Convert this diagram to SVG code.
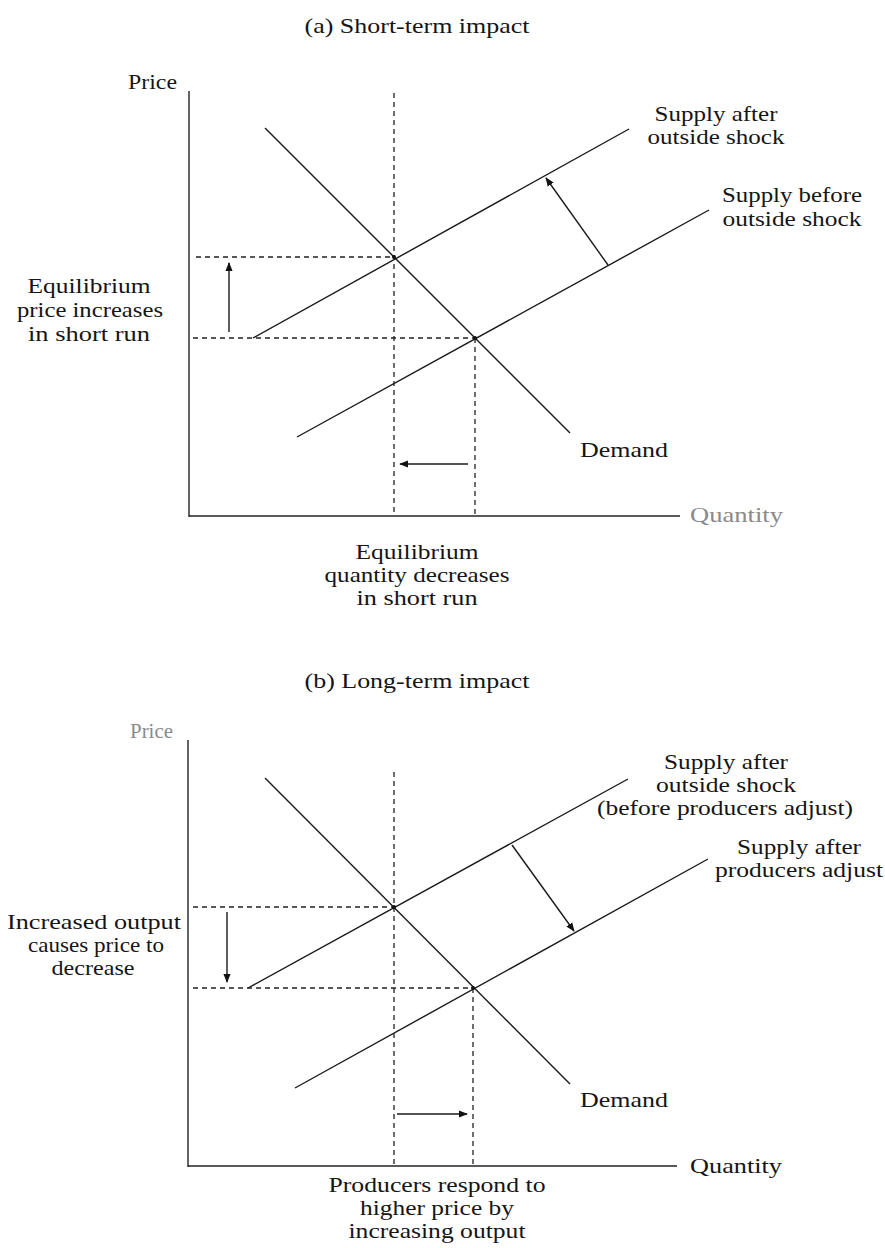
<svg xmlns="http://www.w3.org/2000/svg" width="885" height="1248" viewBox="0 0 885 1248">
<style>
text{font-family:"Liberation Serif","Times New Roman",serif;font-size:21px;fill:#151515}
.c{text-anchor:middle}
.faint{fill:#8a8a8a}
.ax{stroke:#222;stroke-width:1.4;fill:none}
.ln{stroke:#1a1a1a;stroke-width:1.4;fill:none}
.ds{stroke:#222;stroke-width:1.3;stroke-dasharray:5 4;fill:none}
.ar{stroke:#1a1a1a;stroke-width:1.4;fill:none;marker-end:url(#ah)}
.pt{fill:#111}
</style>
<defs>
<marker id="ah" viewBox="0 0 10 10" refX="9" refY="5" markerWidth="9" markerHeight="9" markerUnits="userSpaceOnUse" orient="auto">
<path d="M0,1 L10,5 L0,9 Z" fill="#111"/>
</marker>
</defs>
<rect width="885" height="1248" fill="#fff"/>

<!-- Panel (a) -->
<g id="panel-a">
<text id="title-a" class="c" x="417" y="33" textLength="225" lengthAdjust="spacingAndGlyphs">(a) Short-term impact</text>
<g id="axes-a">
<line class="ax" x1="189" y1="91" x2="189" y2="517"/>
<line class="ax" x1="189" y1="516" x2="680" y2="516"/>
<text x="128" y="89" textLength="49" lengthAdjust="spacingAndGlyphs">Price</text>
<text class="faint" x="690" y="522" textLength="93" lengthAdjust="spacingAndGlyphs">Quantity</text>
</g>
<g id="demand-a">
<line class="ln" x1="265" y1="128" x2="570" y2="433"/>
<text x="580" y="457" textLength="88" lengthAdjust="spacingAndGlyphs">Demand</text>
</g>
<g id="supply-after-a">
<line class="ln" x1="253" y1="338" x2="629" y2="129"/>
<text class="c" x="716" y="121" textLength="123" lengthAdjust="spacingAndGlyphs">Supply after</text>
<text class="c" x="716" y="144" textLength="137" lengthAdjust="spacingAndGlyphs">outside shock</text>
</g>
<g id="supply-before-a">
<line class="ln" x1="297" y1="437" x2="709" y2="210"/>
<text class="c" x="792" y="202" textLength="140" lengthAdjust="spacingAndGlyphs">Supply before</text>
<text class="c" x="792" y="226" textLength="139" lengthAdjust="spacingAndGlyphs">outside shock</text>
</g>
<g id="guides-a">
<line class="ds" x1="394" y1="93" x2="394" y2="516"/>
<line class="ds" x1="475" y1="338" x2="475" y2="516"/>
<line class="ds" x1="196" y1="257" x2="394" y2="257"/>
<line class="ds" x1="193" y1="338" x2="475" y2="338"/>
<circle class="pt" cx="394" cy="257" r="2"/>
<circle class="pt" cx="475" cy="338" r="2"/>
</g>
<g id="price-label-a">
<text class="c" x="89" y="293" textLength="123" lengthAdjust="spacingAndGlyphs">Equilibrium</text>
<text class="c" x="90" y="317" textLength="146" lengthAdjust="spacingAndGlyphs">price increases</text>
<text class="c" x="89" y="341" textLength="122" lengthAdjust="spacingAndGlyphs">in short run</text>
</g>
<g id="quantity-label-a">
<text class="c" x="417" y="559" textLength="123" lengthAdjust="spacingAndGlyphs">Equilibrium</text>
<text class="c" x="417" y="582" textLength="185" lengthAdjust="spacingAndGlyphs">quantity decreases</text>
<text class="c" x="417" y="605" textLength="121" lengthAdjust="spacingAndGlyphs">in short run</text>
</g>
</g>
<g id="connectors-a">
<line class="ar" x1="229" y1="332" x2="229" y2="263"/>
<line class="ar" x1="468" y1="464" x2="400" y2="464"/>
<line class="ar" x1="608" y1="265" x2="546" y2="178"/>
</g>

<!-- Panel (b) -->
<g id="panel-b">
<text id="title-b" class="c" x="417" y="688" textLength="225" lengthAdjust="spacingAndGlyphs">(b) Long-term impact</text>
<g id="axes-b">
<line class="ax" x1="188" y1="740" x2="188" y2="1167"/>
<line class="ax" x1="188" y1="1166" x2="677" y2="1166"/>
<text class="faint" x="130" y="738" textLength="43" lengthAdjust="spacingAndGlyphs">Price</text>
<text x="690" y="1173" textLength="92" lengthAdjust="spacingAndGlyphs">Quantity</text>
</g>
<g id="demand-b">
<line class="ln" x1="265" y1="778" x2="570" y2="1084"/>
<text x="580" y="1107" textLength="88" lengthAdjust="spacingAndGlyphs">Demand</text>
</g>
<g id="supply-shock-b">
<line class="ln" x1="248" y1="988" x2="628" y2="779"/>
<text class="c" x="726" y="769" textLength="124" lengthAdjust="spacingAndGlyphs">Supply after</text>
<text class="c" x="726" y="792" textLength="140" lengthAdjust="spacingAndGlyphs">outside shock</text>
<text class="c" x="725" y="815" textLength="256" lengthAdjust="spacingAndGlyphs">(before producers adjust)</text>
</g>
<g id="supply-adjust-b">
<line class="ln" x1="295" y1="1088" x2="708" y2="859"/>
<text class="c" x="799" y="854" textLength="124" lengthAdjust="spacingAndGlyphs">Supply after</text>
<text class="c" x="799" y="877" textLength="168" lengthAdjust="spacingAndGlyphs">producers adjust</text>
</g>
<g id="guides-b">
<line class="ds" x1="394" y1="772" x2="394" y2="1166"/>
<line class="ds" x1="473" y1="988" x2="473" y2="1166"/>
<line class="ds" x1="193" y1="907" x2="394" y2="907"/>
<line class="ds" x1="193" y1="988" x2="473" y2="988"/>
<circle class="pt" cx="394" cy="907" r="2"/>
<circle class="pt" cx="473" cy="988" r="2"/>
</g>
<g id="price-label-b">
<text class="c" x="94" y="929" textLength="174" lengthAdjust="spacingAndGlyphs">Increased output</text>
<text class="c" x="96" y="952" textLength="136" lengthAdjust="spacingAndGlyphs">causes price to</text>
<text class="c" x="93" y="975" textLength="83" lengthAdjust="spacingAndGlyphs">decrease</text>
</g>
<g id="quantity-label-b">
<text class="c" x="437" y="1192" textLength="217" lengthAdjust="spacingAndGlyphs">Producers respond to</text>
<text class="c" x="437" y="1215" textLength="154" lengthAdjust="spacingAndGlyphs">higher price by</text>
<text class="c" x="437" y="1238" textLength="177" lengthAdjust="spacingAndGlyphs">increasing output</text>
</g>
</g>
<g id="connectors-b">
<line class="ar" x1="227" y1="912" x2="227" y2="982"/>
<line class="ar" x1="397" y1="1114" x2="467" y2="1114"/>
<line class="ar" x1="512" y1="845" x2="574" y2="931"/>
</g>
</svg>
